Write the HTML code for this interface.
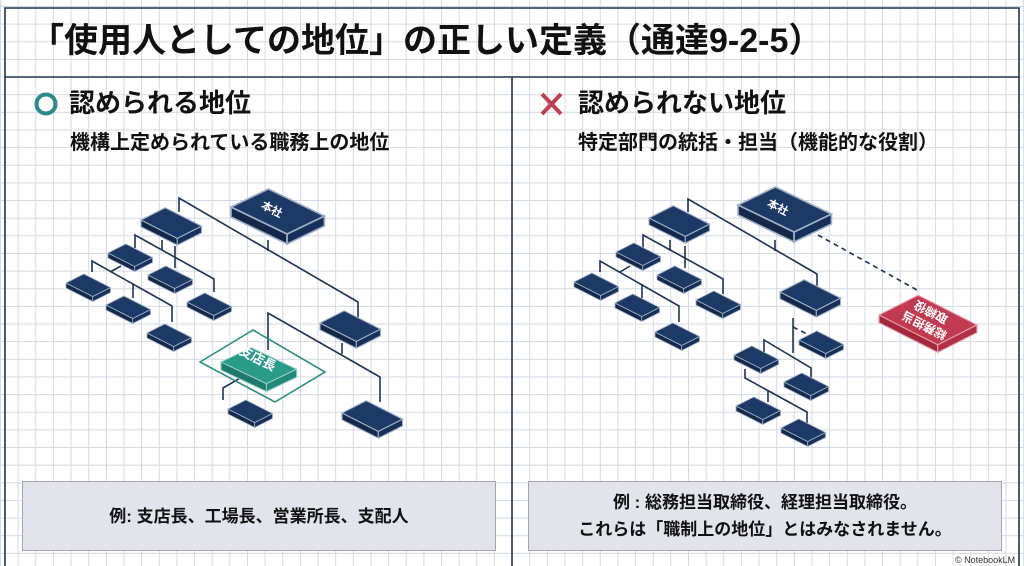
<!DOCTYPE html>
<html><head><meta charset="utf-8"><style>
html,body{margin:0;padding:0;width:1024px;height:566px;overflow:hidden;}
body{position:relative;background:#fff;
background-image:linear-gradient(to right,#d3d9e3 1px,transparent 1px),linear-gradient(to bottom,#d3d9e3 1px,transparent 1px);
background-size:17.65px 17.65px;background-position:0 6px;
font-family:"Liberation Sans","Noto Sans CJK JP",sans-serif;color:#111;}
.t{position:absolute;white-space:nowrap;font-weight:bold;line-height:1.2;}
.box{position:absolute;background:#e1e4ea;border:1px solid #9aa6b8;display:flex;align-items:center;justify-content:center;text-align:center;font-weight:bold;font-size:17px;line-height:27px;box-sizing:border-box;}
</style></head><body>
<svg width="1024" height="566" style="position:absolute;left:0;top:0">
<defs>
<g id="sb">
<polygon points="0,0 26.7,13.5 26.7,18.5 0,5" fill="#14284a" stroke="#9fb0c8" stroke-width="0.8"/>
<polygon points="26.7,13.5 44.5,4.5 44.5,9.5 26.7,18.5" fill="#17305a" stroke="#9fb0c8" stroke-width="0.8"/>
<polygon points="0,0 17.8,-9 44.5,4.5 26.7,13.5" fill="#1d3a66" stroke="#9fb0c8" stroke-width="0.8"/>
</g>
</defs>
<g fill="none" stroke="#1e3350" stroke-width="1.6">
<polyline points="5,566 5,8 1019,8 1019,566"/>
<line x1="5" y1="77" x2="1019" y2="77"/>
<line x1="512" y1="77" x2="512" y2="566"/>
</g>
<g fill="none" stroke="#1e3350" stroke-width="1.6">
<polyline points="179,212 179,198 358,302 358,318"/>
<line x1="268" y1="240" x2="268" y2="251"/>
<polyline points="135,248 135,235 214,279 214,292"/>
<line x1="162" y1="240" x2="162" y2="250"/>
<polyline points="92,272 92,261 172,306 172,322"/>
<line x1="121" y1="266" x2="110" y2="272"/>
<line x1="133" y1="284" x2="133" y2="298"/>
<line x1="175" y1="246" x2="175" y2="268"/>
<line x1="342" y1="343" x2="342" y2="354"/>
<polyline points="268,350 268,313 380,377 380,402"/>
<polyline points="242,377 223,388 223,400"/>
</g>
<polygon points="200,362 253,330 325,372 275,402" fill="none" stroke="#2a8f80" stroke-width="1.6"/>
<use href="#sb" transform="translate(231,207) scale(2.1,2.0)"/>
<use href="#sb" transform="translate(141,220) scale(1.36)"/>
<use href="#sb" transform="translate(108,253)"/>
<use href="#sb" transform="translate(148,275)"/>
<use href="#sb" transform="translate(66,283)"/>
<use href="#sb" transform="translate(106,305)"/>
<use href="#sb" transform="translate(147,333)"/>
<use href="#sb" transform="translate(187,302)"/>
<use href="#sb" transform="translate(320,323) scale(1.36)"/>
<use href="#sb" transform="translate(228,409)"/>
<use href="#sb" transform="translate(342,413) scale(1.36)"/>
<g transform="translate(221,362) scale(1.7,1.6)">
<polygon points="0,0 26.7,13.5 26.7,18.5 0,5" fill="#1b7a6c" stroke="#9fd0c8" stroke-width="0.6"/>
<polygon points="26.7,13.5 44.5,4.5 44.5,9.5 26.7,18.5" fill="#1f8a7a" stroke="#9fd0c8" stroke-width="0.6"/>
<polygon points="0,0 17.8,-9 44.5,4.5 26.7,13.5" fill="#2a9a89" stroke="#9fd0c8" stroke-width="0.6"/>
</g>
<text x="258" y="363" font-size="13" fill="#fff" font-weight="bold" text-anchor="middle" transform="rotate(27 258 358)" font-family="Liberation Sans,Noto Sans CJK JP,sans-serif">支店長</text>
<text x="272" y="213" font-size="11" fill="#fff" font-weight="bold" text-anchor="middle" transform="rotate(27 272 209)" font-family="Liberation Sans,Noto Sans CJK JP,sans-serif">本社</text>
<g fill="none" stroke="#1e3350" stroke-width="1.6">
<polyline points="688,212 688,199 817,274 817,292"/>
<line x1="775" y1="240" x2="775" y2="251"/>
<polyline points="643,248 643,235 723,279 723,294"/>
<line x1="670" y1="240" x2="670" y2="251"/>
<polyline points="600,272 600,261 679,306 679,322"/>
<line x1="630" y1="266" x2="620" y2="272"/>
<line x1="642" y1="284" x2="642" y2="298"/>
<line x1="685" y1="246" x2="685" y2="268"/>
<line x1="793" y1="318" x2="793" y2="353"/>
<polyline points="764,352 764,340 811,368 811,382"/>
<polyline points="745,369 745,378 807,412 807,424"/>
<line x1="768" y1="390" x2="768" y2="402"/>
</g>
<g fill="none" stroke="#1e3350" stroke-width="1.6" stroke-dasharray="5,4">
<line x1="818" y1="235" x2="917" y2="290"/>
<line x1="793" y1="327" x2="807" y2="334"/>
</g>
<use href="#sb" transform="translate(738,205) scale(2.1,2.0)"/>
<use href="#sb" transform="translate(649,218) scale(1.36)"/>
<use href="#sb" transform="translate(616,252)"/>
<use href="#sb" transform="translate(657,275)"/>
<use href="#sb" transform="translate(574,282)"/>
<use href="#sb" transform="translate(615,303)"/>
<use href="#sb" transform="translate(655,332)"/>
<use href="#sb" transform="translate(696,300)"/>
<use href="#sb" transform="translate(780,292) scale(1.36)"/>
<use href="#sb" transform="translate(799,340)"/>
<use href="#sb" transform="translate(734,355)"/>
<use href="#sb" transform="translate(784,382)"/>
<use href="#sb" transform="translate(736,406)"/>
<use href="#sb" transform="translate(781,428)"/>
<text x="778" y="211" font-size="11" fill="#fff" font-weight="bold" text-anchor="middle" transform="rotate(27 778 207)" font-family="Liberation Sans,Noto Sans CJK JP,sans-serif">本社</text>
<g transform="translate(879,315) scale(2.2)">
<polygon points="0,0 26.7,13.5 26.7,17 0,3.5" fill="#a3283c" stroke="#e8a0ac" stroke-width="0.5"/>
<polygon points="26.7,13.5 44.5,4.5 44.5,8 26.7,17" fill="#b32f45" stroke="#e8a0ac" stroke-width="0.5"/>
<polygon points="0,0 17.8,-9 44.5,4.5 26.7,13.5" fill="#c23a50" stroke="#e8a0ac" stroke-width="0.5"/>
</g>
<g transform="rotate(207 928 318)" font-family="Liberation Sans,Noto Sans CJK JP,sans-serif" font-size="12" fill="#fff" font-weight="bold" text-anchor="middle">
<text x="928" y="314">総務担当</text>
<text x="928" y="329">取締役</text>
</g>
<circle cx="46" cy="104" r="9.5" fill="none" stroke="#2a8c88" stroke-width="4"/>
<g stroke="#c0404f" stroke-width="4"><line x1="542" y1="94" x2="561" y2="114"/><line x1="561" y1="94" x2="542" y2="114"/></g>
</svg>
<div class="t" style="left:30px;top:21px;font-size:34px;">「使用人としての地位」の正しい定義（通達9-2-5）</div>
<div class="t" style="left:69px;top:88px;font-size:26px;">認められる地位</div>
<div class="t" style="left:70px;top:131px;font-size:20px;">機構上定められている職務上の地位</div>
<div class="t" style="left:578px;top:88px;font-size:26px;">認められない地位</div>
<div class="t" style="left:578px;top:131px;font-size:20px;">特定部門の統括・担当（機能的な役割）</div>
<div class="box" style="left:22px;top:481px;width:474px;height:70px;">例: 支店長、工場長、営業所長、支配人</div>
<div class="box" style="left:528px;top:481px;width:474px;height:70px;">例 : 総務担当取締役、経理担当取締役。<br>これらは「職制上の地位」とはみなされません。</div>
<div class="t" style="left:955px;top:555px;font-size:9px;font-weight:normal;color:#333;">© NotebookLM</div>
</body></html>
